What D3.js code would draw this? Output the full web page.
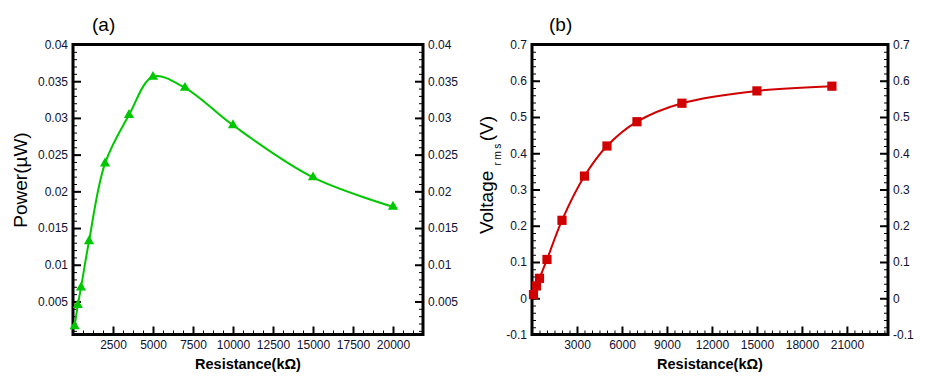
<!DOCTYPE html>
<html>
<head>
<meta charset="utf-8">
<script src="https://cdn.jsdelivr.net/npm/d3@7"></script>
<style>
  body { margin: 0; background: #fff; }
  svg { display: block; font-family: Arial, "Liberation Sans", sans-serif; }
</style>
</head>
<body>
<svg id="chart" width="945" height="378"></svg>
<script>
// resistance in kOhm, shared by both panels
const resistance = [100, 300, 500, 1000, 2000, 3500, 5000, 7000, 10000, 15000, 20000];
const power = [0.0016, 0.0045, 0.0069, 0.0132, 0.0238, 0.0304, 0.0356, 0.0341, 0.0290, 0.0219, 0.0179];
const voltage = [0.010, 0.034, 0.055, 0.107, 0.215, 0.337, 0.420, 0.487, 0.538, 0.572, 0.585];

const powerTicks = [0.005, 0.01, 0.015, 0.02, 0.025, 0.03, 0.035, 0.04];
const powerXTicks = [2500, 5000, 7500, 10000, 12500, 15000, 17500, 20000];
const voltTicks = [-0.1, 0, 0.1, 0.2, 0.3, 0.4, 0.5, 0.6, 0.7];
const voltXTicks = [3000, 6000, 9000, 12000, 15000, 18000, 21000];

const svg = d3.select("#chart");
const tickColor = "#101030";

function fmt(d) { return String(+d.toFixed(3)); }

function range(a, b, step) {
    const out = [];
    for (let v = a; v <= b + step / 1000; v += step) out.push(+v.toFixed(6));
    return out;
}

function drawPanel(opt) {
    const x = d3.scaleLinear().domain(opt.xDomain).range([opt.left, opt.right]);
    const y = d3.scaleLinear().domain(opt.yDomain).range([opt.bottom, opt.top]);
    const g = svg.append("g");

    // minor ticks
    g.append("g").attr("transform", `translate(${opt.left},0)`)
        .call(d3.axisLeft(y).tickValues(opt.yMinor).tickSize(-4).tickFormat(""));
    g.append("g").attr("transform", `translate(${opt.right},0)`)
        .call(d3.axisRight(y).tickValues(opt.yMinor).tickSize(-4).tickFormat(""));
    g.append("g").attr("transform", `translate(0,${opt.bottom})`)
        .call(d3.axisBottom(x).tickValues(opt.xMinor).tickSize(-4).tickFormat(""));

    // major ticks with labels
    const left = g.append("g").attr("transform", `translate(${opt.left},0)`)
        .call(d3.axisLeft(y).tickValues(opt.yTicks).tickSize(-8).tickPadding(5).tickFormat(fmt));
    const right = g.append("g").attr("transform", `translate(${opt.right},0)`)
        .call(d3.axisRight(y).tickValues(opt.yTicks).tickSize(-8).tickPadding(5).tickFormat(fmt));
    const bottom = g.append("g").attr("transform", `translate(0,${opt.bottom})`)
        .call(d3.axisBottom(x).tickValues(opt.xTicks).tickSize(-8).tickPadding(6).tickFormat(d => d));

    [left, right, bottom].forEach(a => {
        a.selectAll(".tick line").attr("stroke-width", 2);
        a.selectAll("text").attr("font-size", 12).attr("fill", tickColor)
            .attr("font-family", "Arial, 'Liberation Sans', sans-serif");
    });
    g.selectAll(".domain").remove();
    g.selectAll(".tick line").attr("stroke", "#000");

    // frame
    g.append("rect")
        .attr("x", opt.left).attr("y", opt.top)
        .attr("width", opt.right - opt.left).attr("height", opt.bottom - opt.top)
        .attr("fill", "none").attr("stroke", "#000").attr("stroke-width", 3);

    // curve
    const pts = resistance.map((r, i) => [r, opt.values[i]]);
    const line = d3.line()
        .x(d => x(d[0])).y(d => y(d[1]))
        .curve(d3.curveCatmullRom.alpha(0.5));
    g.append("path").datum(pts)
        .attr("d", line).attr("fill", "none")
        .attr("stroke", opt.color).attr("stroke-width", 2);

    g.selectAll(".mark").data(pts).enter().append("path")
        .attr("transform", d => `translate(${x(d[0])},${y(d[1])})`)
        .attr("d", d3.symbol().type(opt.symbol).size(opt.symbolSize))
        .attr("fill", opt.color);

    // panel tag
    g.append("text").attr("x", opt.tagX).attr("y", 31)
        .attr("font-size", 19).attr("fill", "#000").text(opt.tag);

    // x title
    g.append("text")
        .attr("x", (opt.left + opt.right) / 2).attr("y", 369)
        .attr("text-anchor", "middle").attr("font-size", 14.5)
        .attr("font-weight", "bold").attr("fill", "#000")
        .text("Resistance(k\u03A9)");

    return g;
}

const ga = drawPanel({
    left: 73, right: 423, top: 44.5, bottom: 334.5,
    xDomain: [0, 21875], yDomain: [0.0005, 0.04],
    xTicks: powerXTicks, yTicks: powerTicks,
    xMinor: range(625, 21250, 625), yMinor: range(0.001, 0.039, 0.001),
    values: power, color: "#00c800",
    symbol: d3.symbolTriangle, symbolSize: 45,
    tag: "(a)", tagX: 92
});
ga.append("text")
    .attr("transform", "translate(27,180) rotate(-90)")
    .attr("text-anchor", "middle").attr("font-size", 19).attr("fill", "#000")
    .text("Power(\u00B5W)");

const gb = drawPanel({
    left: 532, right: 888, top: 44.5, bottom: 334.5,
    xDomain: [0, 23740], yDomain: [-0.1, 0.7],
    xTicks: voltXTicks, yTicks: voltTicks,
    xMinor: range(500, 23500, 500), yMinor: range(-0.08, 0.68, 0.02),
    values: voltage, color: "#d00000",
    symbol: d3.symbolSquare, symbolSize: 85,
    tag: "(b)", tagX: 549
});
const vt = gb.append("text")
    .attr("transform", "translate(493,175) rotate(-90)")
    .attr("text-anchor", "middle").attr("font-size", 19).attr("fill", "#000");
vt.append("tspan").text("Voltage ");
vt.append("tspan").attr("font-size", 10).attr("letter-spacing", 2.5).attr("dy", 8).text("rms");
vt.append("tspan").attr("dy", -8).text("(V)");
</script>
</body>
</html>
